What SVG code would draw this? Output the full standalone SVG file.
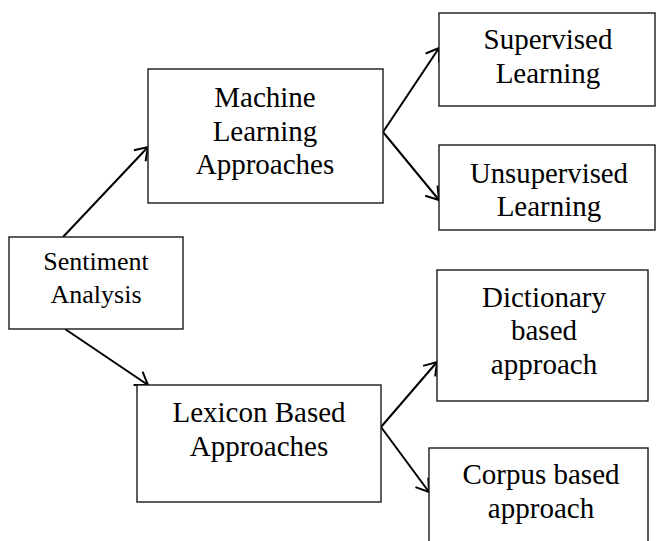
<svg xmlns="http://www.w3.org/2000/svg" width="656" height="541" viewBox="0 0 656 541">
<style>
  .box { fill: #ffffff; stroke: #1a1a1a; stroke-width: 1.4; }
  .t { font-family: "Liberation Serif", "Times New Roman", serif; font-size: 29px; fill: #000; text-anchor: middle; }
  .ts { font-size: 26px; }
  .conn line { stroke: #000; stroke-width: 2; fill: none; }
</style>
<defs>
  <marker id="arr" viewBox="0 0 16 20" refX="15" refY="10" markerWidth="16" markerHeight="20" markerUnits="userSpaceOnUse" orient="auto">
    <path d="M3,2 L15,10 L3,18" fill="none" stroke="#000" stroke-width="2" stroke-linejoin="miter"/>
  </marker>
</defs>
<rect width="656" height="541" fill="#ffffff"/>

<g id="connectors" class="conn">
  <line x1="63" y1="237" x2="148" y2="147" marker-end="url(#arr)"/>
  <line x1="65" y1="329" x2="148" y2="385" marker-end="url(#arr)"/>
  <line x1="383" y1="132" x2="439" y2="48" marker-end="url(#arr)"/>
  <line x1="383" y1="132" x2="439" y2="200" marker-end="url(#arr)"/>
  <line x1="381" y1="427" x2="437" y2="362" marker-end="url(#arr)"/>
  <line x1="381" y1="427" x2="429" y2="492" marker-end="url(#arr)"/>
</g>

<g id="sentiment">
  <rect class="box" x="9" y="237" width="174" height="92"/>
  <text class="t ts" x="96" y="270">Sentiment</text>
  <text class="t ts" x="96" y="303">Analysis</text>
</g>

<g id="machine">
  <rect class="box" x="148" y="69" width="235" height="134"/>
  <text class="t" x="265" y="107">Machine</text>
  <text class="t" x="265" y="141">Learning</text>
  <text class="t" x="265" y="174">Approaches</text>
</g>

<g id="supervised">
  <rect class="box" x="439" y="13" width="216" height="93"/>
  <text class="t" x="548" y="49">Supervised</text>
  <text class="t" x="548" y="83">Learning</text>
</g>

<g id="unsupervised">
  <rect class="box" x="439" y="145" width="216" height="85"/>
  <text class="t" x="549" y="183" textLength="158" lengthAdjust="spacingAndGlyphs">Unsupervised</text>
  <text class="t" x="549" y="216">Learning</text>
</g>

<g id="lexicon">
  <rect class="box" x="137" y="385" width="244" height="117"/>
  <text class="t" x="259" y="422">Lexicon Based</text>
  <text class="t" x="259" y="456">Approaches</text>
</g>

<g id="dictionary">
  <rect class="box" x="437" y="270" width="211" height="131"/>
  <text class="t" x="544" y="307">Dictionary</text>
  <text class="t" x="544" y="340">based</text>
  <text class="t" x="544" y="374">approach</text>
</g>

<g id="corpus">
  <rect class="box" x="429" y="448" width="219" height="120"/>
  <text class="t" x="541" y="484">Corpus based</text>
  <text class="t" x="541" y="518">approach</text>
</g>
</svg>
